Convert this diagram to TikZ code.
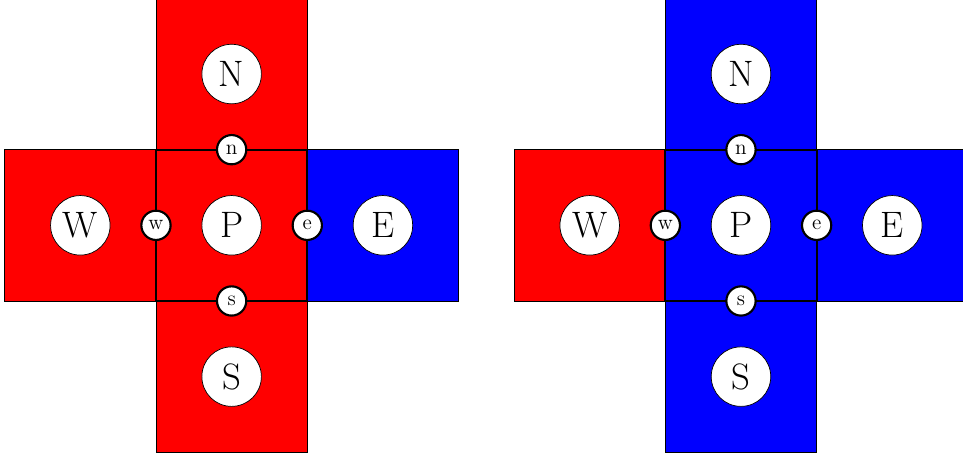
\documentclass[tikz,border=0pt]{standalone}
\usepackage{tikz}
\definecolor{inside}{RGB}{255, 0, 0}
\definecolor{outside}{RGB}{0, 0, 255}

\begin{document}
\begin{tikzpicture}[scale=1,
  cellnode/.style={circle, draw, fill=white, minimum size=1.18cm, inner sep=0pt, font=\huge},
  facenode/.style={circle, draw, very thick, fill=white, minimum size=0.58cm, inner sep=0pt, font=\large}]
  \useasboundingbox (-4.593, -4.614) rectangle (14.502, 4.468);

  \foreach \o/\t/\cn/\cw/\cp/\ce/\cs in {0/L/inside/inside/inside/outside/inside, 10.1/R/outside/inside/outside/outside/outside} {
    % cells
    \foreach \x/\y/\c/\n in {0/3/\cn/N, -3/0/\cw/W, 0/0/\cp/P, 3/0/\ce/E, 0/-3/\cs/S} {
      \filldraw[fill=\c, draw=black] ({\o + \x - 1.5}, {\y - 1.5}) rectangle ({\o + \x + 1.5}, {\y + 1.5});
      \node[cellnode] (\n\t) at ({\o + \x}, \y) {\n};
    }
    \draw[line width=1pt] ({\o - 1.5}, -1.5) rectangle ({\o + 1.5}, 1.5);
    % faces
    \foreach \x/\y/\f in {0/1.5/n, -1.5/0/w, 1.5/0/e, 0/-1.5/s} {
      \node[facenode] (\f\t) at ({\o + \x}, \y) {\f};
    }
  }

\end{tikzpicture}
\end{document}
